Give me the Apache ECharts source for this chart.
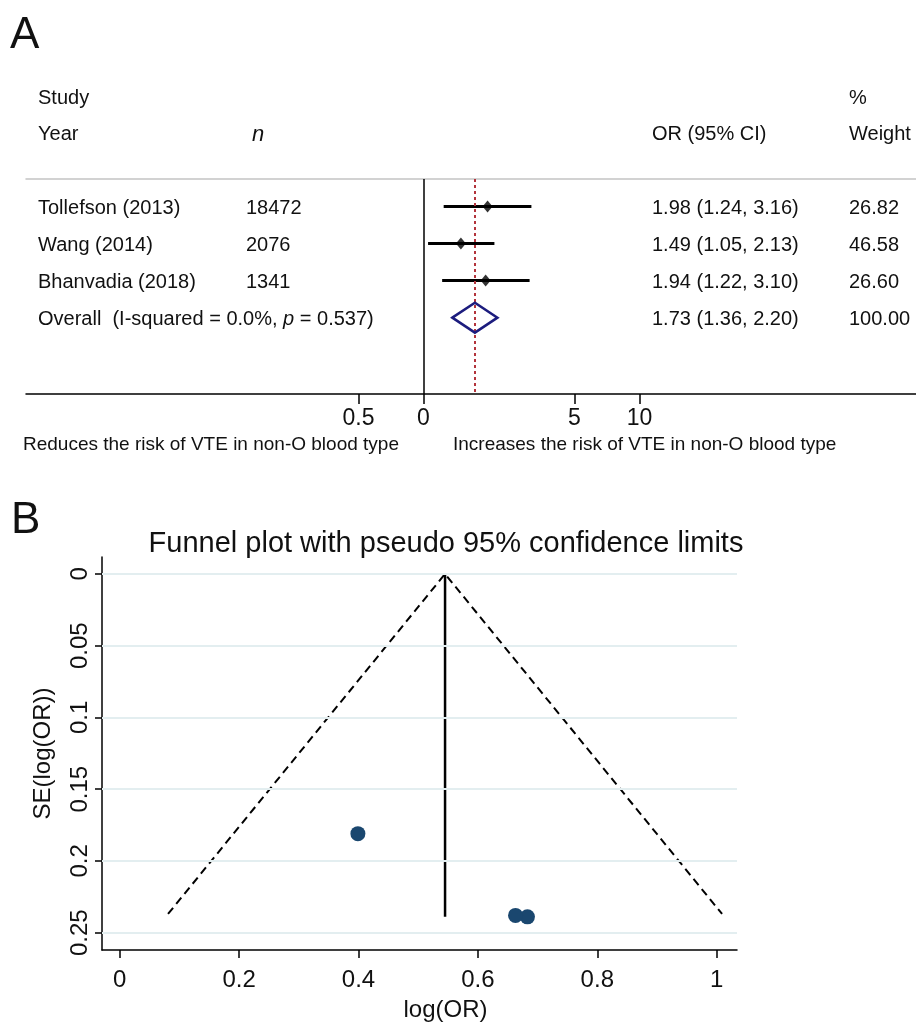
<!DOCTYPE html>
<html lang="en">
<head>
<meta charset="UTF-8">
<title>Forest plot and funnel plot</title>
<script src="https://cdn.jsdelivr.net/npm/echarts@6/dist/echarts.min.js"></script>
<style>
html, body { margin: 0; padding: 0; background: #fff; }
#chart { width: 916px; height: 1023px; }
</style>
</head>
<body>
<div id="chart"></div>
<script>
// ---- panel A: forest plot ----
var studies = ['Tollefson (2013)', 'Wang (2014)', 'Bhanvadia (2018)'];
var sampleSizes = ['18472', '2076', '1341'];
var orValues = [1.98, 1.49, 1.94];
var ciLower = [1.24, 1.05, 1.22];
var ciUpper = [3.16, 2.13, 3.10];
var weights = ['26.82', '46.58', '26.60'];
var pooledOR = 1.73;
var pooledCI = [1.36, 2.20];
var pooledWeight = '100.00';
var forestTickValues = [0.5, 1, 5, 10];
var forestTickLabels = ['0.5', '0', '5', '10'];

// ---- panel B: funnel plot ----
var funnelLogOR = [0.683, 0.399, 0.663];
var funnelSE = [0.239, 0.181, 0.238];
var pooledLogOR = 0.545;
var limitLeft = [0.081, 0.237];
var limitRight = [1.009, 0.237];
var centreLineEndSE = 0.239;
var funnelXTicks = [0, 0.2, 0.4, 0.6, 0.8, 1];
var funnelYTicks = [0, 0.05, 0.1, 0.15, 0.2, 0.25];

var FONT = 'Liberation Sans, Arial, sans-serif';
var INK = '#111';

var myChart = echarts.init(document.getElementById('chart'));

var ln = Math.log;
var rowCount = studies.length + 1;   // studies + overall

// text columns (pixel x) for the table part
var colStudy = 38, colN = 246, colCI = 652, colWeight = 849;
var textShift = 2;

var ciText = orValues.map(function (v, i) {
    return v.toFixed(2) + ' (' + ciLower[i].toFixed(2) + ', ' + ciUpper[i].toFixed(2) + ')';
});
var pooledText = pooledOR.toFixed(2) + ' (' + pooledCI[0].toFixed(2) + ', ' + pooledCI[1].toFixed(2) + ')';

var textRows = [];
for (var i = 0; i < studies.length; i++) {
    textRows.push([0, i + 1]);
}
textRows.push([0, rowCount]);

function rowText(params, api) {
    var y = api.coord([0, api.value(1)])[1] + textShift;
    var i = params.dataIndex;
    var base = { fill: INK, font: '20px ' + FONT, textVerticalAlign: 'middle' };
    var kids = [];
    if (i < studies.length) {
        kids.push({ type: 'text', style: Object.assign({ x: colStudy, y: y, text: studies[i] }, base) });
        kids.push({ type: 'text', style: Object.assign({ x: colN, y: y, text: sampleSizes[i] }, base) });
        kids.push({ type: 'text', style: Object.assign({ x: colCI, y: y, text: ciText[i] }, base) });
        kids.push({ type: 'text', style: Object.assign({ x: colWeight, y: y, text: weights[i] }, base) });
    } else {
        kids.push({ type: 'text', style: {
            x: colStudy, y: y, textVerticalAlign: 'middle',
            text: '{a|Overall  (I-squared = 0.0%, }{b|p}{a| = 0.537)}',
            rich: {
                a: { fill: INK, fontSize: 20, fontFamily: FONT },
                b: { fill: INK, fontSize: 20, fontFamily: FONT, fontStyle: 'italic' }
            }
        } });
        kids.push({ type: 'text', style: Object.assign({ x: colCI, y: y, text: pooledText }, base) });
        kids.push({ type: 'text', style: Object.assign({ x: colWeight, y: y, text: pooledWeight }, base) });
    }
    return { type: 'group', children: kids };
}

function ciLine(params, api) {
    var a = api.coord([api.value(0), api.value(2)]);
    var b = api.coord([api.value(1), api.value(2)]);
    return {
        type: 'line',
        shape: { x1: a[0], y1: a[1], x2: b[0], y2: b[1] },
        style: { stroke: '#000', lineWidth: 3 }
    };
}

function pooledDiamond(params, api) {
    var row = api.value(3);
    var l = api.coord([api.value(0), row]);
    var c = api.coord([api.value(1), row]);
    var r = api.coord([api.value(2), row]);
    var h = 15;
    return {
        type: 'polygon',
        shape: { points: [[l[0], l[1]], [c[0], c[1] - h], [r[0], r[1]], [c[0], c[1] + h]] },
        style: { fill: 'none', stroke: '#1c1c7e', lineWidth: 2.5 }
    };
}

function forestLabel(v) {
    for (var k = 0; k < forestTickValues.length; k++) {
        if (Math.abs(ln(forestTickValues[k]) - v) < 1e-6) return forestTickLabels[k];
    }
    return '';
}

var forestMin = -4.238, forestMax = 5.251;

var option = {
    animation: false,
    textStyle: { fontFamily: FONT, color: INK },
    title: {
        text: 'Funnel plot with pseudo 95% confidence limits',
        left: 441,
        textAlign: 'center',
        top: 524,
        textStyle: { fontSize: 29, fontWeight: 'normal', color: INK, fontFamily: FONT }
    },
    graphic: [
        { type: 'text', left: 10, top: 14, style: { text: 'A', font: '44px ' + FONT, fill: INK } },
        { type: 'text', left: 11, top: 499, style: { text: 'B', font: '44px ' + FONT, fill: INK } },
        { type: 'text', x: colStudy, y: 98, style: { text: 'Study', font: '20px ' + FONT, fill: INK, textVerticalAlign: 'middle' } },
        { type: 'text', x: colStudy, y: 134, style: { text: 'Year', font: '20px ' + FONT, fill: INK, textVerticalAlign: 'middle' } },
        { type: 'text', x: 252, y: 135, style: { text: 'n', font: 'italic 22px ' + FONT, fill: INK, textVerticalAlign: 'middle' } },
        { type: 'text', x: colCI, y: 134, style: { text: 'OR (95% CI)', font: '20px ' + FONT, fill: INK, textVerticalAlign: 'middle' } },
        { type: 'text', x: colWeight, y: 98, style: { text: '%', font: '20px ' + FONT, fill: INK, textVerticalAlign: 'middle' } },
        { type: 'text', x: colWeight, y: 134, style: { text: 'Weight', font: '20px ' + FONT, fill: INK, textVerticalAlign: 'middle' } },
        { type: 'text', x: 23, y: 445, style: { text: 'Reduces the risk of VTE in non-O blood type', font: '19px ' + FONT, fill: INK, textVerticalAlign: 'middle' } },
        { type: 'text', x: 453, y: 445, style: { text: 'Increases the risk of VTE in non-O blood type', font: '19px ' + FONT, fill: INK, textVerticalAlign: 'middle' } }
    ],
    grid: [
        { left: 26, right: 0, top: 179, bottom: 1023 - 394 },
        { left: 102, right: 916 - 737, top: 557, bottom: 1023 - 952 }
    ],
    xAxis: [
        {
            gridIndex: 0, type: 'value', min: forestMin, max: forestMax,
            splitLine: { show: false },
            axisLine: { lineStyle: { color: '#000', width: 1.5 } },
            axisTick: { customValues: forestTickValues.map(ln), length: 10, lineStyle: { color: '#000', width: 1.5 } },
            axisLabel: { customValues: forestTickValues.map(ln), formatter: forestLabel, fontSize: 23, color: INK, margin: 13 }
        },
        {
            gridIndex: 0, type: 'value', position: 'top', min: forestMin, max: forestMax,
            splitLine: { show: false },
            axisLine: { lineStyle: { color: '#c4c4c4', width: 1.5 } },
            axisTick: { show: false },
            axisLabel: { show: false }
        },
        {
            gridIndex: 1, type: 'value', min: -0.0296, max: 1.034,
            name: 'log(OR)', nameLocation: 'middle', nameGap: 48,
            nameTextStyle: { fontSize: 24, color: INK, padding: [0, 0, 0, 52] },
            splitLine: { show: false },
            axisLine: { onZero: false, lineStyle: { color: '#000', width: 1.5 } },
            axisTick: { customValues: funnelXTicks, length: 8, lineStyle: { color: '#000', width: 1.5 } },
            axisLabel: { customValues: funnelXTicks, fontSize: 24, color: INK, margin: 18 }
        }
    ],
    yAxis: [
        { gridIndex: 0, type: 'value', inverse: true, min: 0.26, max: 6.06, show: false },
        {
            gridIndex: 1, type: 'value', inverse: true, min: -0.0118, max: 0.2621,
            name: 'SE(log(OR))', nameLocation: 'middle', nameGap: 47,
            nameTextStyle: { fontSize: 24, color: INK },
            splitLine: { show: false },
            axisLine: { onZero: false, lineStyle: { color: '#000', width: 1.5 } },
            axisTick: { customValues: funnelYTicks, length: 7, lineStyle: { color: '#000', width: 1.5 } },
            axisLabel: { customValues: funnelYTicks, fontSize: 24, color: INK, rotate: 90, margin: 10 }
        }
    ],
    series: [
        // forest: CI whiskers
        {
            type: 'custom', xAxisIndex: 0, yAxisIndex: 0,
            renderItem: ciLine,
            data: orValues.map(function (v, i) { return [ln(ciLower[i]), ln(ciUpper[i]), i + 1]; }),
            z: 3
        },
        // forest: point estimates + reference lines
        {
            type: 'scatter', xAxisIndex: 0, yAxisIndex: 0,
            symbol: 'diamond', symbolSize: [10, 12],
            itemStyle: { color: '#000' },
            data: orValues.map(function (v, i) { return [ln(v), i + 1]; }),
            z: 4,
            markLine: {
                silent: true, symbol: ['none', 'none'], label: { show: false },
                data: [
                    { xAxis: 0, lineStyle: { color: '#000', type: 'solid', width: 1.5 } },
                    { xAxis: ln(pooledOR), lineStyle: { color: '#b3343c', type: [3, 3], width: 2 } }
                ]
            }
        },
        // forest: pooled diamond
        {
            type: 'custom', xAxisIndex: 0, yAxisIndex: 0,
            renderItem: pooledDiamond,
            data: [[ln(pooledCI[0]), ln(pooledOR), ln(pooledCI[1]), rowCount]],
            z: 5
        },
        // forest: table text
        {
            type: 'custom', xAxisIndex: 0, yAxisIndex: 0,
            renderItem: rowText,
            data: textRows,
            z: 6
        },
        // funnel: grid lines
        {
            type: 'line', xAxisIndex: 2, yAxisIndex: 1, data: [],
            markLine: {
                silent: true, symbol: ['none', 'none'], label: { show: false },
                lineStyle: { color: '#e3eef0', type: 'solid', width: 2 },
                data: funnelYTicks.map(function (v) { return { yAxis: v }; })
            },
            z: 1
        },
        // funnel: pseudo 95% limits
        {
            type: 'line', xAxisIndex: 2, yAxisIndex: 1,
            symbol: 'none',
            lineStyle: { color: '#000', width: 2, type: [8, 5] },
            data: [limitLeft, [pooledLogOR, 0], limitRight],
            z: 3
        },
        // funnel: pooled estimate line
        {
            type: 'line', xAxisIndex: 2, yAxisIndex: 1,
            symbol: 'none',
            lineStyle: { color: '#000', width: 2.5 },
            data: [[pooledLogOR, 0], [pooledLogOR, centreLineEndSE]],
            z: 3
        },
        // funnel: studies
        {
            type: 'scatter', xAxisIndex: 2, yAxisIndex: 1,
            symbolSize: 15,
            itemStyle: { color: '#1a476f', opacity: 1 },
            data: funnelLogOR.map(function (v, i) { return [v, funnelSE[i]]; }),
            z: 4
        }
    ]
};

myChart.setOption(option);
</script>
</body>
</html>
